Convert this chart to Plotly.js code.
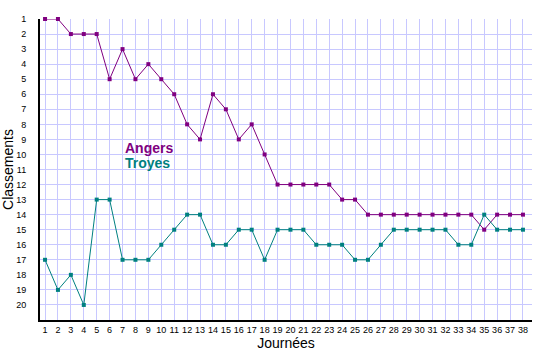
<!DOCTYPE html>
<html><head><meta charset="utf-8">
<script src="https://cdn.plot.ly/plotly-3.0.1.min.js"></script>
<style>html,body{margin:0;padding:0;background:#fff}#chart{width:535px;height:360px}</style>
</head><body><div id="chart"></div>
<script>
const journees = Array.from({length: 38}, (_, i) => i + 1);
const angersName = "Angers";
const troyesName = "Troyes";
const angers = [1,1,2,2,2,5,3,5,4,5,6,8,9,6,7,9,8,10,12,12,12,12,12,13,13,14,14,14,14,14,14,14,14,14,15,14,14,14];
const troyes = [17,19,18,20,13,13,17,17,17,16,15,14,14,16,16,15,15,17,15,15,15,16,16,16,17,17,16,15,15,15,15,15,16,16,14,15,15,15];
const yTicks = Array.from({length: 20}, (_, i) => i + 1);

const purple = "#800080", teal = "#008080";
const traces = [
  {x: journees, y: angers, name: angersName, mode: "lines+markers", cliponaxis: false, line: {color: purple, width: 1}, marker: {symbol: "square", size: 4, color: purple}},
  {x: journees, y: troyes, name: troyesName, mode: "lines+markers", cliponaxis: false, line: {color: teal, width: 1}, marker: {symbol: "square", size: 4, color: teal}}
];
const tickFont = {family: "Arial, Liberation Sans, sans-serif", size: 9, color: "#000"};
const layout = {
  width: 535, height: 360,
  margin: {l: 40, r: 3, t: 19, b: 40},
  paper_bgcolor: "#fff", plot_bgcolor: "#fff",
  showlegend: false,
  xaxis: {
    range: [0.61, 38.7], tickvals: journees, ticktext: journees.map(String),
    showgrid: true, gridcolor: "#c8c8ff", gridwidth: 1, zeroline: false,
    showline: true, linecolor: "#000", linewidth: 2, ticks: "", tickfont: tickFont,
    title: {text: "Journées", font: {family: "Arial, Liberation Sans, sans-serif", size: 14, color: "#000"}, standoff: 4}
  },
  yaxis: {
    range: [21, 1], tickvals: yTicks, ticktext: yTicks.map(String),
    showgrid: true, gridcolor: "#c8c8ff", gridwidth: 1, zeroline: false,
    showline: true, linecolor: "#000", linewidth: 2, ticks: "", tickfont: tickFont,
    ticklabelstandoff: 10,
    title: {text: "Classements", font: {family: "Arial, Liberation Sans, sans-serif", size: 14, color: "#000"}, standoff: 6}
  },
  annotations: [
    {x: 7, y: 9.6, xref: "x", yref: "y", text: "<b>" + angersName + "</b>", showarrow: false, xanchor: "left", font: {family: "Arial, Liberation Sans, sans-serif", size: 14, color: purple}},
    {x: 7, y: 10.6, xref: "x", yref: "y", text: "<b>" + troyesName + "</b>", showarrow: false, xanchor: "left", font: {family: "Arial, Liberation Sans, sans-serif", size: 14, color: teal}}
  ]
};
Plotly.newPlot("chart", traces, layout, {displayModeBar: false, staticPlot: true});
</script></body></html>
